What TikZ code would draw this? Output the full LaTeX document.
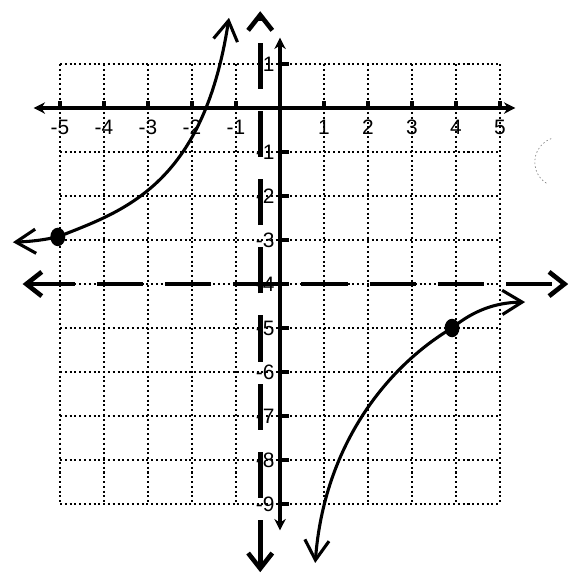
\documentclass[tikz,border=0pt]{standalone}
\usepackage{fontspec}
\setsansfont{Liberation Sans}
\usepackage{tikz}
\usetikzlibrary{arrows.meta,shapes.geometric}

\begin{document}
\begin{tikzpicture}[>={Stealth[length=2.6mm,width=2.6mm]},
    gridline/.style={line width=1.3pt,dash pattern=on 1.3pt off 1.8pt},
    axis/.style={<->,line width=2.3pt},
    tick/.style={line width=2.2pt},
    asym/.style={line width=3pt,dash pattern=on 1.05cm off 0.5cm,
                 {Straight Barb[length=3.5mm,width=5.5mm]}-{Straight Barb[length=3.5mm,width=5.5mm]}},
    branch/.style={line width=2pt,{Straight Barb[length=4.5mm,width=5.5mm]}-{Straight Barb[length=4.5mm,width=5.5mm]}},
    pt/.style={fill,ellipse,minimum width=3.4mm,minimum height=4.2mm,inner sep=0},
    lab/.style={inner sep=0,font=\sffamily\fontsize{13.5}{16}\selectfont}]
    \useasboundingbox (-6.364,-10.727) rectangle (6.909,2.455);

    % dotted grid
    \foreach \x in {-5,...,5}
        \draw[gridline] (\x,1) -- (\x,-9);
    \foreach \y in {1,...,-9}
        \draw[gridline] (-5,\y) -- (5,\y);

    % axes
    \coordinate (xl) at (-5.6,0);
    \coordinate (xr) at (5.35,0);
    \coordinate (yt) at (0,1.6);
    \coordinate (yb) at (0,-9.6);
    \draw[axis] (xl) -- (xr);
    \draw[axis] (yb) -- (yt);

    \foreach \x in {-5,...,-1,1,2,...,5} {
        \draw[tick] (\x,0) -- (\x,0.17);
        \node[lab,anchor=north] (x\x) at (\x,-0.27) {\x};
    }
    \foreach \y in {1,-1,-2,...,-9} {
        \draw[tick] (0,\y) -- (0.2,\y);
        \node[lab,anchor=east] (y\y) at (-0.12,\y) {\y};
    }

    % asymptotes
    \coordinate (va) at (-0.45,2.2);
    \coordinate (vb) at (-0.45,-10.55);
    \coordinate (ha) at (-5.85,-4);
    \coordinate (hb) at (6.55,-4);
    \draw[asym] (vb) -- (va);
    \draw[asym] (ha) -- (hb);

    % branches
    \node[pt] (p1) at (-5.05,-2.93) {};
    \node[pt] (p2) at (3.91,-5) {};
    \coordinate (l0) at (-6.07,-3.05);
    \coordinate (l1) at (-1.16,2.05);
    \coordinate (r0) at (0.8,-10.34);
    \coordinate (r1) at (5.57,-4.41);
    \draw[branch] (l0) .. controls (-5.6,-3.03) and (-5.4,-3) .. (p1.center)
        .. controls (-3.6,-2.35) and (-1.75,-1.8) .. (l1);
    \draw[branch] (r0) .. controls (1,-7.7) and (2.4,-5.9) .. (p2.center)
        .. controls (4.4,-4.6) and (4.9,-4.42) .. (r1);

    % faint mark at the right
    \draw[gray,line width=0.4pt,dash pattern=on 1pt off 1.5pt] (6.36,-1.23) ++(110:0.57) arc (110:240:0.57);
\end{tikzpicture}
\end{document}
